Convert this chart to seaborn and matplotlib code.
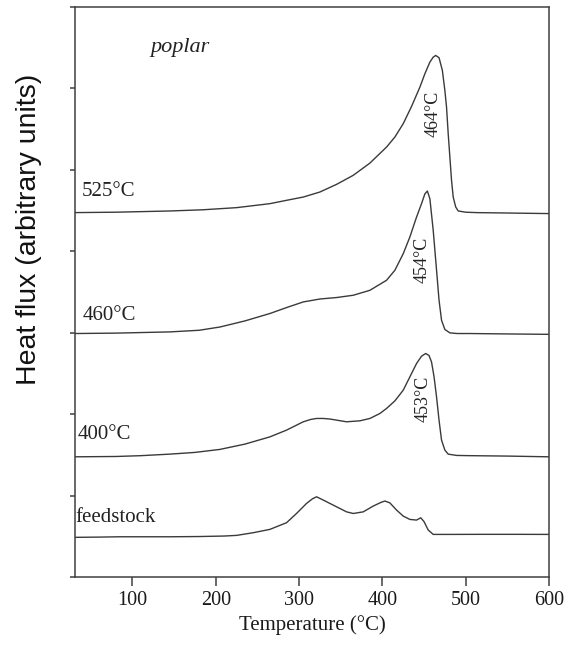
import matplotlib
matplotlib.use("Agg")
import matplotlib.pyplot as plt
import seaborn as sns
import pandas as pd

# ---- data (temperature in °C, heat flux in arbitrary units, curves offset) ----
t_feed = [31, 60, 85, 120, 145, 180, 210, 225, 245, 265, 285, 297, 309, 316, 321,
          326, 333, 345, 357, 365, 377, 389, 398, 403, 409, 417, 425, 433, 441, 446,
          450, 455, 461, 480, 520, 560, 600]
y_feed = [0.487, 0.49, 0.494, 0.494, 0.494, 0.497, 0.503, 0.511, 0.544, 0.585, 0.667,
          0.781, 0.904, 0.96, 0.985, 0.96, 0.924, 0.862, 0.80, 0.78, 0.80, 0.871, 0.915,
          0.933, 0.91, 0.822, 0.748, 0.707, 0.699, 0.727, 0.68, 0.577, 0.523, 0.523,
          0.524, 0.524, 0.523]

t_400 = [31, 80, 110, 145, 175, 205, 235, 265, 285, 305, 314, 321, 329, 337, 357, 373,
         385, 397, 405, 415, 425, 433, 441, 447, 452, 456, 459, 462, 465, 468, 471, 475,
         479, 489, 505, 550, 600]
y_400 = [1.476, 1.48, 1.49, 1.509, 1.53, 1.567, 1.632, 1.721, 1.804, 1.906, 1.935,
         1.947, 1.947, 1.94, 1.906, 1.918, 1.947, 2.008, 2.07, 2.163, 2.294, 2.458, 2.622,
         2.712, 2.745, 2.72, 2.64, 2.46, 2.212, 1.926, 1.681, 1.558, 1.509, 1.493, 1.49,
         1.485, 1.476]

t_460 = [31, 80, 145, 180, 205, 235, 265, 285, 305, 325, 345, 365, 385, 405, 415, 425,
         433, 441, 447, 451, 454, 457, 461, 465, 468, 471, 475, 481, 490, 505, 550, 600]
y_460 = [2.99, 2.995, 3.01, 3.03, 3.07, 3.145, 3.236, 3.309, 3.378, 3.414, 3.432, 3.46,
         3.521, 3.644, 3.767, 3.97, 4.176, 4.42, 4.585, 4.705, 4.74, 4.646, 4.258, 3.77,
         3.399, 3.153, 3.04, 2.998, 2.99, 2.99, 2.985, 2.98]

t_525 = [31, 80, 145, 185, 225, 265, 285, 305, 325, 345, 365, 385, 405, 415, 425, 435,
         445, 451, 457, 461, 464, 468, 472, 475, 477, 479, 481, 483, 485, 488, 491, 500,
         513, 550, 600]
y_525 = [4.475, 4.48, 4.495, 4.51, 4.536, 4.585, 4.626, 4.666, 4.728, 4.822, 4.933,
         5.083, 5.28, 5.403, 5.567, 5.779, 6.016, 6.18, 6.323, 6.384, 6.405, 6.377, 6.221,
         5.975, 5.77, 5.444, 5.157, 4.871, 4.666, 4.544, 4.495, 4.48, 4.475, 4.47, 4.463]

series_names = ["feedstock", "400°C", "460°C", "525°C"]
series_t = [t_feed, t_400, t_460, t_525]
series_y = [y_feed, y_400, y_460, y_525]

# curve labels and peak labels
name_label_x = [31.2, 34, 39.6, 39.6]
name_label_y = [0.73, 1.748, 3.215, 4.736]
peak_labels = ["453°C", "454°C", "464°C"]
peak_label_x = [449.2, 447.3, 460.4]
peak_label_y = [2.193, 3.89, 5.693]

x_ticks = [100, 200, 300, 400, 500, 600]
y_ticks = [0, 1, 2, 3, 4, 5, 6, 7]

# ---- build table ----
frames = []
for name, t, y in zip(series_names, series_t, series_y):
    frames.append(pd.DataFrame({"Temperature": t, "Heat flux": y, "sample": name}))
df = pd.concat(frames, ignore_index=True)

sns.set_style("ticks")
plt.rcParams["font.family"] = ["Liberation Serif", "DejaVu Serif"]

fig = plt.figure(figsize=(5.67, 6.46), dpi=100)
ax = fig.add_axes([75 / 567, 1 - 577 / 646, 474 / 567, 570 / 646])

line_color = "#3a3a3a"
sns.lineplot(data=df, x="Temperature", y="Heat flux", hue="sample",
             palette={n: line_color for n in series_names}, estimator=None,
             sort=False, linewidth=1.0, legend=False, ax=ax)

ax.set_xlim(31, 600)
ax.set_ylim(0, 7)
ax.set_xticks(x_ticks)
ax.set_xticklabels([str(v) for v in x_ticks])
ax.set_yticks(y_ticks)
ax.set_yticklabels([])

for s in ax.spines.values():
    s.set_visible(True)
    s.set_color("#404040")
    s.set_linewidth(1.1)

ax.tick_params(axis="x", direction="out", length=6.5, width=1.1, color="#404040",
               pad=3.5, labelsize=14.5, labelcolor="#1a1a1a")
ax.tick_params(axis="y", direction="out", length=3.8, width=1.1, color="#404040",
               left=True, right=False)

ax.set_xlabel("Temperature (°C)", fontsize=15, color="#1a1a1a")
ax.xaxis.set_label_coords(0.5, -0.084)
ax.xaxis.label.set_verticalalignment("center")

ax.set_ylabel("Heat flux (arbitrary units)", fontsize=20.5, color="#111111",
              family=["Liberation Sans", "DejaVu Sans"])
ax.yaxis.set_label_coords(-0.097, 0.6105)
ax.yaxis.label.set_verticalalignment("center")
ax.yaxis.label.set_horizontalalignment("center")

for name, x, y in zip(series_names, name_label_x, name_label_y):
    ax.text(x, y, name, fontsize=15, ha="left", va="center", color="#222222")

for lab, x, y in zip(peak_labels, peak_label_x, peak_label_y):
    ax.text(x, y, lab, fontsize=13, ha="center", va="center", rotation=90,
            color="#222222")

ax.text(157.2, 6.503, "poplar", fontsize=16, style="italic", ha="center",
        va="center", color="#222222")

fig.savefig("out.png", dpi=100)
